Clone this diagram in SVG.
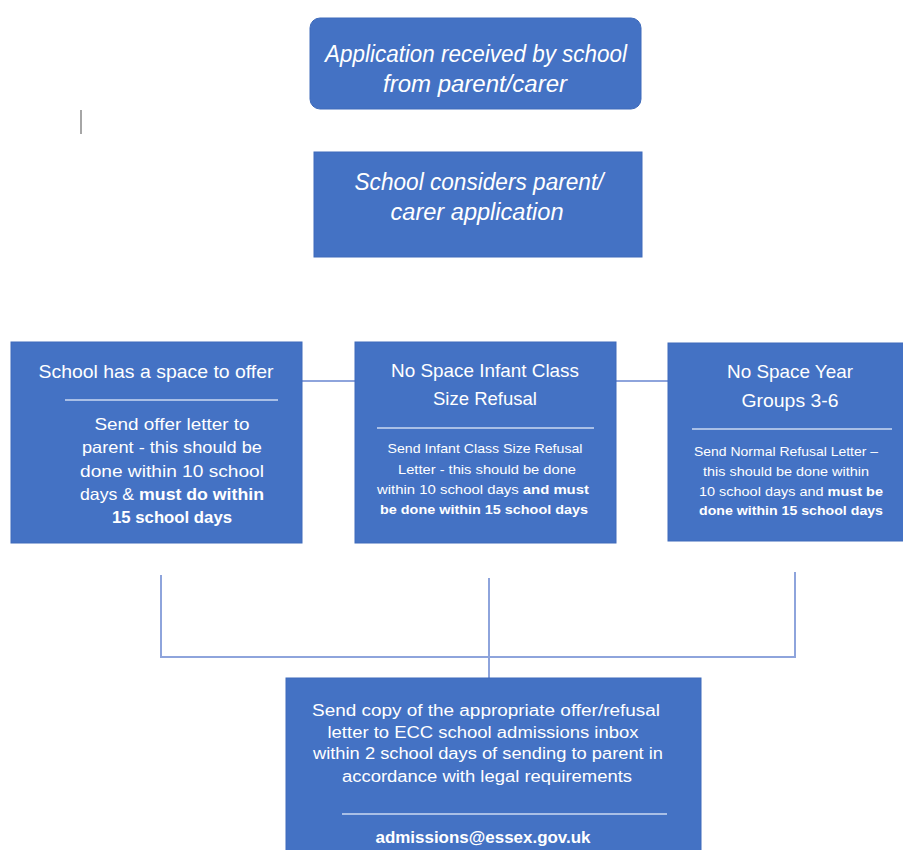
<svg xmlns="http://www.w3.org/2000/svg" width="903" height="850" viewBox="0 0 903 850">
<style>
.box{fill:#4472c4;stroke:#3f6bbb;stroke-width:1}
.t{fill:#ffffff;font-family:"Liberation Sans",Arial,sans-serif;text-anchor:middle}
.it{font-style:italic;font-size:23px}
.h{font-size:19px}
.b1{font-size:16.5px}
.b2{font-size:13.5px}
.b6{font-size:16px}
.bold{font-weight:bold}
.sep{stroke:#a9bfe6;stroke-width:2}
.conn{fill:none;stroke:#8ea4dc;stroke-width:2}
</style>
<rect width="903" height="850" fill="#ffffff"/>
<line x1="81" y1="110" x2="81" y2="134" stroke="#a6a6a6" stroke-width="2"/>
<g id="connectors">
<line class="conn" x1="302" y1="381" x2="355" y2="381"/>
<line class="conn" x1="616" y1="381" x2="668" y2="381"/>
<polyline class="conn" points="161,575 161,657 795,657 795,572"/>
<line class="conn" x1="489" y1="578" x2="489" y2="678"/>
</g>
<g id="n1">
<rect class="box" x="310" y="18" width="331" height="91" rx="10"/>
<text class="t it" x="476" y="62" textLength="302" lengthAdjust="spacingAndGlyphs">Application received by school</text>
<text class="t it" x="475" y="92" textLength="184" lengthAdjust="spacingAndGlyphs">from parent/carer</text>
</g>
<g id="n2">
<rect class="box" x="314" y="152" width="328" height="105"/>
<text class="t it" x="479" y="190" textLength="249" lengthAdjust="spacingAndGlyphs">School considers parent/</text>
<text class="t it" x="477" y="220" textLength="173" lengthAdjust="spacingAndGlyphs">carer application</text>
</g>
<g id="n3">
<rect class="box" x="11" y="342" width="291" height="201"/>
<text class="t h" x="156" y="378" textLength="235" lengthAdjust="spacingAndGlyphs">School has a space to offer</text>
<line class="sep" x1="65" y1="400" x2="278" y2="400"/>
<text class="t b1" x="172" y="430" textLength="155" lengthAdjust="spacingAndGlyphs">Send offer letter to</text>
<text class="t b1" x="172" y="453" textLength="180" lengthAdjust="spacingAndGlyphs">parent - this should be</text>
<text class="t b1" x="172" y="477" textLength="184" lengthAdjust="spacingAndGlyphs">done within 10  school</text>
<text class="t b1" x="172" y="500" textLength="184" lengthAdjust="spacingAndGlyphs">days &amp; <tspan class="bold">must do within</tspan></text>
<text class="t b1 bold" x="172" y="523" textLength="120" lengthAdjust="spacingAndGlyphs">15 school days</text>
</g>
<g id="n4">
<rect class="box" x="355" y="342" width="261" height="201"/>
<text class="t h" x="485" y="377" textLength="188" lengthAdjust="spacingAndGlyphs">No Space Infant Class</text>
<text class="t h" x="485" y="405" textLength="104" lengthAdjust="spacingAndGlyphs">Size Refusal</text>
<line class="sep" x1="377" y1="428" x2="594" y2="428"/>
<text class="t b2" x="485" y="453" textLength="195" lengthAdjust="spacingAndGlyphs">Send Infant Class Size Refusal</text>
<text class="t b2" x="487" y="474" textLength="178" lengthAdjust="spacingAndGlyphs">Letter - this should be done</text>
<text class="t b2" x="483" y="494" textLength="212" lengthAdjust="spacingAndGlyphs">within 10 school days <tspan class="bold">and must</tspan></text>
<text class="t b2 bold" x="484" y="514" textLength="208" lengthAdjust="spacingAndGlyphs">be done within 15 school days</text>
</g>
<g id="n5">
<rect class="box" x="668" y="343" width="236" height="198"/>
<text class="t h" x="790" y="378" textLength="126" lengthAdjust="spacingAndGlyphs">No Space Year</text>
<text class="t h" x="790" y="407" textLength="97" lengthAdjust="spacingAndGlyphs">Groups 3-6</text>
<line class="sep" x1="692" y1="429" x2="892" y2="429"/>
<text class="t b2" x="786" y="456" textLength="184" lengthAdjust="spacingAndGlyphs">Send Normal Refusal Letter –</text>
<text class="t b2" x="786" y="476" textLength="166" lengthAdjust="spacingAndGlyphs">this should be done within</text>
<text class="t b2" x="791" y="496" textLength="184" lengthAdjust="spacingAndGlyphs">10 school days and <tspan class="bold">must be</tspan></text>
<text class="t b2 bold" x="791" y="515" textLength="184" lengthAdjust="spacingAndGlyphs">done within 15 school days</text>
</g>
<g id="n6">
<rect class="box" x="286" y="678" width="415" height="180"/>
<text class="t b6" x="486" y="716" textLength="348" lengthAdjust="spacingAndGlyphs">Send copy of the appropriate offer/refusal</text>
<text class="t b6" x="483" y="738" textLength="311" lengthAdjust="spacingAndGlyphs">letter to ECC school admissions inbox</text>
<text class="t b6" x="488" y="759" textLength="350" lengthAdjust="spacingAndGlyphs">within 2 school days of sending to parent in</text>
<text class="t b6" x="487" y="782" textLength="290" lengthAdjust="spacingAndGlyphs">accordance with legal requirements</text>
<line class="sep" x1="342" y1="814" x2="667" y2="814"/>
<text class="t b6 bold" x="483" y="843" textLength="215" lengthAdjust="spacingAndGlyphs">admissions@essex.gov.uk</text>
</g>
</svg>
